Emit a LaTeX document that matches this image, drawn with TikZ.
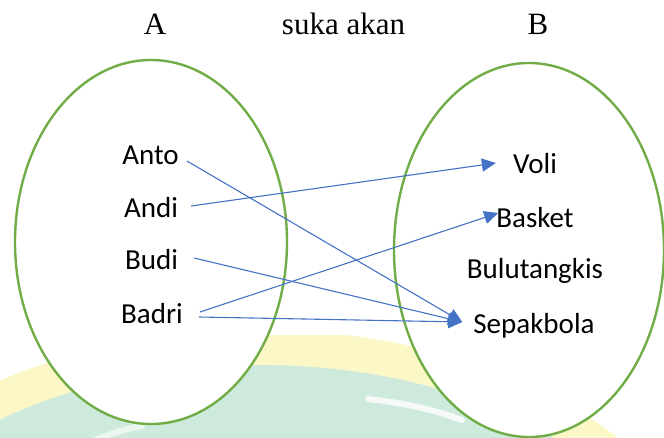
\documentclass[tikz,border=0pt]{standalone}
\usepackage{fontspec}
\setmainfont{Liberation Serif}
\newfontfamily\labelfont{Carlito}
\usetikzlibrary{arrows.meta,calc}

\definecolor{setgreen}{HTML}{70AD47}
\definecolor{arrowblue}{HTML}{4472C4}
\definecolor{wmyellow}{HTML}{FCF7C6}
\definecolor{wmmint}{HTML}{CDEADC}

\tikzset{
  settitle/.style={font=\fontsize{31}{36}\selectfont, anchor=base, inner sep=0pt},
  member/.style={font=\labelfont\fontsize{29}{34}\selectfont, anchor=base, inner sep=0pt},
  setring/.style={draw=setgreen, line width=2.4pt, fill=white},
  maparrow/.style={draw=arrowblue, line width=1.1pt,
    -{Triangle[length=14pt,width=13pt]}},
}

\begin{document}
\begin{tikzpicture}[x=1pt, y=-1pt]
  \useasboundingbox (0,0) rectangle (664,437);

  % faint emblem in the background
  \begin{scope}
    \clip (0,335) rectangle (664,437);
    \fill[wmyellow] (260,620) ellipse [x radius=460, y radius=290];
    \fill[wmmint] (260,620) ellipse [x radius=420, y radius=255];
    \draw[white, opacity=0.8, line width=6pt, line cap=round]
      (368,399) .. controls (405,403) and (435,410) .. (462,420);
    \draw[white, opacity=0.6, line width=6pt, line cap=round]
      (95,440) .. controls (110,434) and (125,429) .. (142,426);
  \end{scope}

  % the two sets
  \draw[setring] (151,242) ellipse [x radius=136, y radius=182];
  \draw[setring] (529,250) ellipse [x radius=135, y radius=187];

  % headings
  \node[settitle] (ta) at (155,34) {A};
  \node[settitle] (rel) at (343.5,34) {suka akan};
  \node[settitle] (tb) at (538,34) {B};

  % members of A
  \node[member] (anto)  at (150.5,164) {Anto};
  \node[member] (andi)  at (151,217) {Andi};
  \node[member] (budi)  at (151.5,269) {Budi};
  \node[member] (badri) at (152,323) {Badri};

  % members of B
  \node[member] (voli)   at (535,173) {Voli};
  \node[member] (basket) at (535,227) {Basket};
  \node[member] (bulu)   at (535,278) {Bulutangkis};
  \node[member] (sepak)  at (534,333) {Sepakbola};

  % the relation
  \draw[maparrow] ($(anto.base east)+(8,-3)$) -- ($(sepak.base west)+(-11,-11)$);
  \draw[maparrow] ($(andi.base east)+(13,-11)$) -- ($(voli.base west)+(-17,-10)$);
  \draw[maparrow] ($(budi.base east)+(16,-11)$) -- ($(sepak.base west)+(-11,-11)$);
  \draw[maparrow] ($(badri.base east)+(17,-11)$) -- ($(basket.base west)+(2,-14)$);
  \draw[maparrow] ($(badri.base east)+(16,-6)$) -- ($(sepak.base west)+(-11,-11)$);
\end{tikzpicture}
\end{document}
